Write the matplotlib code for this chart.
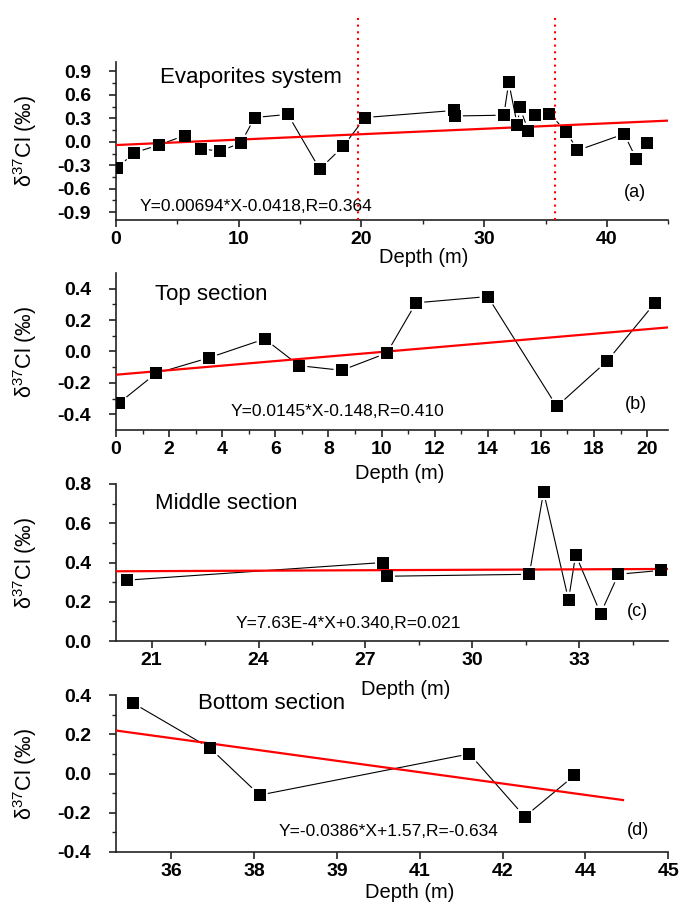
import matplotlib
matplotlib.use('Agg')
import matplotlib.pyplot as plt
from matplotlib.ticker import MultipleLocator, FixedLocator, FormatStrFormatter
import numpy as np

plt.rcParams['font.family'] = ['Liberation Sans', 'DejaVu Sans']
plt.rcParams['mathtext.fontset'] = 'custom'
plt.rcParams['mathtext.rm'] = 'Liberation Sans'
plt.rcParams['mathtext.it'] = 'Liberation Sans:italic'
plt.rcParams['mathtext.bf'] = 'Liberation Sans:bold'
plt.rcParams['axes.unicode_minus'] = False

# ---------------- data ----------------
depth_top = [0.1, 1.5, 3.5, 5.6, 6.9, 8.5, 10.2, 11.3, 14.0, 16.6, 18.5, 20.3]
d37_top = [-0.33, -0.14, -0.04, 0.08, -0.09, -0.12, -0.01, 0.31, 0.35, -0.35, -0.06, 0.31]

depth_mid = [20.3, 27.5, 27.6, 31.6, 32.0, 32.7, 32.9, 33.6, 34.1, 35.3]
d37_mid = [0.31, 0.40, 0.33, 0.34, 0.76, 0.21, 0.44, 0.14, 0.34, 0.36]

depth_bot = [35.3, 36.7, 37.6, 41.4, 42.4, 43.3]
d37_bot = [0.36, 0.13, -0.11, 0.10, -0.22, -0.01]

# whole system = top + middle + bottom (shared end points only once)
depth_all = depth_top + depth_mid[1:] + depth_bot[1:]
d37_all = d37_top + d37_mid[1:] + d37_bot[1:]

section_titles = ["Evaporites system", "Top section", "Middle section", "Bottom section"]
panel_tags = ["(a)", "(b)", "(c)", "(d)"]
reg_slope = [0.00694, 0.0145, 7.63e-4, -0.0386]
reg_intercept = [-0.0418, -0.148, 0.340, 1.57]
reg_xrange = [(0, 45), (0, 20.8), (20, 35.5), (35, 44.2)]
eq_labels = ["Y=0.00694*X-0.0418,R=0.364",
             "Y=0.0145*X-0.148,R=0.410",
             "Y=7.63E-4*X+0.340,R=0.021",
             "Y=-0.0386*X+1.57,R=-0.634"]
section_bounds = [19.75, 35.8]

xlims = [(0, 45), (0, 20.8), (20, 35.5), (35, 45)]
ylims = [(-1.0, 1.02), (-0.5, 0.5), (0.0, 0.8), (-0.4, 0.4)]
yticks_a = [-0.9, -0.6, -0.3, 0.0, 0.3, 0.6, 0.9]
yticks_b = [-0.4, -0.2, 0.0, 0.2, 0.4]
yticks_c = [0.0, 0.2, 0.4, 0.6, 0.8]
yticks_d = [-0.4, -0.2, 0.0, 0.2, 0.4]
yticks_all = [yticks_a, yticks_b, yticks_c, yticks_d]

xticks_d = [36, 37.5, 39, 40.5, 42, 43.5, 45]
xticklabels_d = ["36", "38", "39", "41", "42", "44", "45"]
xticks_c = [21, 24, 27, 30, 33]
xminor_c = [22.5, 25.5, 28.5, 31.5, 34.5]

# ---------------- layout ----------------
W, H = 681, 911
fig = plt.figure(figsize=(W / 100, H / 100), dpi=100)
left, right = 116, 668.3
tops = [62, 273, 484, 695]
bottoms = [220, 430, 641, 852]

series = [(depth_all, d37_all), (depth_top, d37_top), (depth_mid, d37_mid), (depth_bot, d37_bot)]

title_pos = [(0.079, 0.905), (0.071, 0.86), (0.071, 0.873), (0.149, 0.945)]
eq_pos = [(0.043, 0.087), (0.208, 0.117), (0.216, 0.113), (0.294, 0.129)]
tag_pos = [(0.94, 0.177), (0.941, 0.16), (0.945, 0.187), (0.945, 0.14)]
xlabel_pos = [(0.558, -0.24), (0.513, -0.274), (0.525, -0.31), (0.531, -0.255)]

MS_PX = 12.5
axes = []
for i in range(4):
    ax = fig.add_axes([left / W, 1 - bottoms[i] / H, (right - left) / W, (bottoms[i] - tops[i]) / H])
    ax.patch.set_visible(False)
    axes.append(ax)
    ax.set_xlim(*xlims[i])
    ax.set_ylim(*ylims[i])
    for s in ['top', 'right']:
        ax.spines[s].set_visible(False)
    for s in ['left', 'bottom']:
        ax.spines[s].set_linewidth(1.2)
        ax.spines[s].set_color('#222222')

    # y ticks
    yt = np.array(yticks_all[i])
    step = yt[1] - yt[0]
    ax.yaxis.set_major_locator(FixedLocator(yt))
    ax.yaxis.set_minor_locator(FixedLocator(yt[:-1] + step / 2))
    ax.yaxis.set_major_formatter(FormatStrFormatter('%.1f'))

    # x ticks
    if i == 0:
        ax.xaxis.set_major_locator(MultipleLocator(10))
        ax.xaxis.set_minor_locator(MultipleLocator(5))
    elif i == 1:
        ax.xaxis.set_major_locator(MultipleLocator(2))
        ax.xaxis.set_minor_locator(MultipleLocator(1))
    elif i == 2:
        ax.xaxis.set_major_locator(FixedLocator(xticks_c))
        ax.xaxis.set_minor_locator(FixedLocator(xminor_c))
    else:
        ax.set_xticks(xticks_d)
        ax.set_xticklabels(xticklabels_d)

    ax.tick_params(axis='both', which='major', direction='out', length=5, width=1.2,
                   color='#222222', labelsize=14)
    ax.tick_params(axis='both', which='minor', direction='out', length=3, width=1.0,
                   color='#222222')
    ax.tick_params(axis='y', which='major', pad=13)
    ax.tick_params(axis='x', which='major', pad=3)
    for lab in ax.get_xticklabels() + ax.get_yticklabels():
        lab.set_fontweight('bold')

    # regression line
    xr = np.array(reg_xrange[i])
    ax.plot(xr, reg_slope[i] * xr + reg_intercept[i], color='#ff0000', lw=1.6, zorder=3,
            solid_capstyle='butt')

    # markers
    xs, ys = series[i]
    ax.plot(xs, ys, linestyle='none', marker='s', markersize=MS_PX * 0.72,
            markerfacecolor='black', markeredgecolor='black', markeredgewidth=0, zorder=4)

    # connecting lines with gaps at symbols (Origin style)
    pts = ax.transData.transform(np.column_stack([xs, ys]))
    inv = ax.transData.inverted()
    half = MS_PX / 2
    for p, q in zip(pts[:-1], pts[1:]):
        d = q - p
        L = np.hypot(d[0], d[1])
        if L == 0:
            continue
        u = d / L
        gap = half / max(abs(u[0]), abs(u[1])) + 2.5
        if L <= 2 * gap:
            continue
        seg = inv.transform(np.vstack([p + u * gap, q - u * gap]))
        ax.plot(seg[:, 0], seg[:, 1], color='black', lw=0.8, zorder=2)

    # texts
    ax.text(title_pos[i][0], title_pos[i][1], section_titles[i], transform=ax.transAxes,
            fontsize=16, ha='left', va='center')
    ax.text(eq_pos[i][0], eq_pos[i][1], eq_labels[i], transform=ax.transAxes,
            fontsize=12.5, ha='left', va='center')
    ax.text(tag_pos[i][0], tag_pos[i][1], panel_tags[i], transform=ax.transAxes,
            fontsize=13, ha='center', va='center')

    ax.set_xlabel('Depth (m)', fontsize=14.5)
    ax.xaxis.set_label_coords(*xlabel_pos[i])
    ax.xaxis.label.set_va('center')
    ax.set_ylabel('δ$^{37}$Cl (‰)', fontsize=15.5)
    ax.yaxis.set_label_coords(-0.165, 0.5)
    ax.yaxis.label.set_va('center')

# section boundaries in panel (a), extending above the axes
ax = axes[0]
for xb in section_bounds:
    ax.plot([xb, xb], [0, 1.306], transform=ax.get_xaxis_transform(), color='#ff0000',
            lw=1.5, linestyle=(0, (1, 2.2)), clip_on=False, zorder=3)

fig.savefig('out.png', dpi=100)
